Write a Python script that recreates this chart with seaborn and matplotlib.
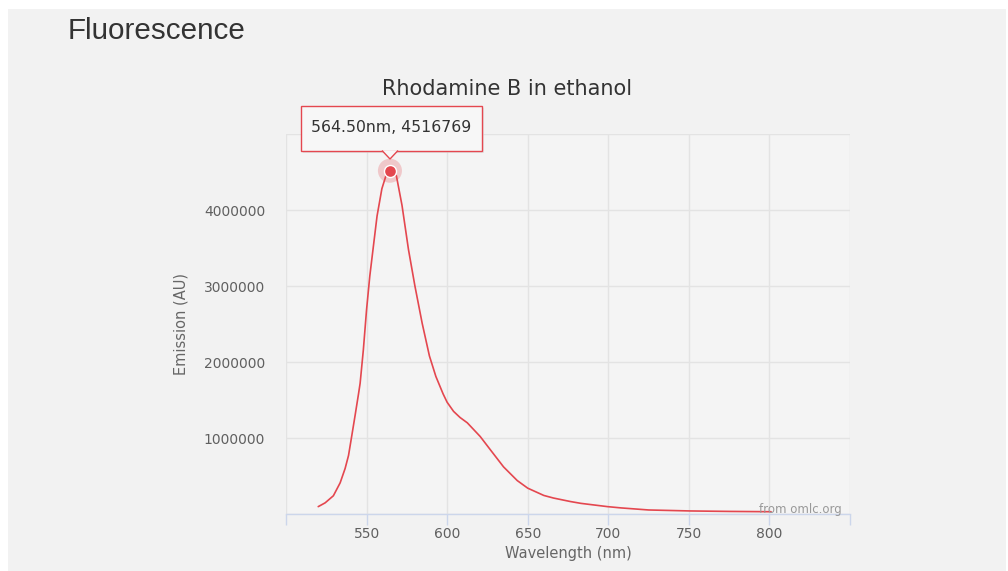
import numpy as np
import pandas as pd
import matplotlib.pyplot as plt
import seaborn as sns
from matplotlib.patches import Rectangle, Polygon

# Datos (aprox.)
wavelength = [520, 524.3, 529.4, 533.6, 536.7, 538.8, 540.9, 542.9, 545, 546, 548, 550, 552,
              554.5, 556.5, 559.5, 562, 564.5, 568.5, 572, 576, 580, 584.5, 589, 593, 597.5,
              600, 604, 608, 612.5, 616.5, 620.5, 627, 635, 643.5, 650, 660, 666, 676.5, 683,
              699.5, 708, 725, 751, 775, 801]
emission = [0.097e6, 0.147e6, 0.24e6, 0.41e6, 0.60e6, 0.77e6, 1.04e6, 1.30e6, 1.58e6, 1.72e6,
            2.16e6, 2.69e6, 3.13e6, 3.57e6, 3.92e6, 4.28e6, 4.45e6, 4516769, 4.45e6, 4.06e6,
            3.48e6, 3.00e6, 2.51e6, 2.08e6, 1.81e6, 1.58e6, 1.47e6, 1.35e6, 1.27e6, 1.20e6,
            1.11e6, 1.02e6, 0.84e6, 0.62e6, 0.44e6, 0.34e6, 0.244e6, 0.21e6, 0.164e6, 0.14e6,
            0.097e6, 0.08e6, 0.053e6, 0.04e6, 0.034e6, 0.03e6]
peak_wl = 564.5
peak_val = 4516769
x_ticks = [550, 600, 650, 700, 750, 800]
y_ticks = [1000000, 2000000, 3000000, 4000000]

df = pd.DataFrame({'wavelength': wavelength, 'emission': emission})

sns.set_theme(style='whitegrid')
plt.rcParams['font.family'] = ['DejaVu Sans']

red = '#e4474f'
fig = plt.figure(figsize=(10.08, 5.71), dpi=100)
fig.patch.set_facecolor('white')
fig.patches.append(Rectangle((8 / 1008, 0), 998 / 1008, 1 - 9 / 571, transform=fig.transFigure,
                             facecolor='#f2f2f2', edgecolor='none', zorder=-10))

ax = fig.add_axes([286 / 1008, 1 - 514 / 571, (850 - 286) / 1008, (514 - 134) / 571])
ax.set_facecolor('#f4f4f4')

sns.lineplot(data=df, x='wavelength', y='emission', color=red, linewidth=1.2, ax=ax)

ax.set_xlim(500, 850)
ax.set_ylim(0, 5000000)
ax.set_xticks([500] + x_ticks + [850])
ax.set_xticklabels([''] + [str(t) for t in x_ticks] + [''])
ax.set_yticks([0] + y_ticks + [5000000])
ax.set_yticklabels([''] + [str(t) for t in y_ticks] + [''])
ax.grid(True, color='#e3e3e3', linewidth=1)
for s in ['top', 'right', 'left']:
    ax.spines[s].set_visible(False)
ax.spines['bottom'].set_color('#ccd6eb')
ax.spines['bottom'].set_linewidth(1)
ax.tick_params(axis='x', colors='#ccd6eb', length=8, width=1, direction='out', labelcolor='#606060',
               labelsize=10, pad=1, bottom=True)
ax.tick_params(axis='y', length=0, labelcolor='#606060', labelsize=10, pad=15)

ax.set_xlabel('Wavelength (nm)', fontsize=10.5, color='#666666', labelpad=4)
ax.set_ylabel('Emission (AU)', fontsize=10.5, color='#666666', labelpad=11)

fig.text(507 / 1008, 1 - 89 / 571, 'Rhodamine B in ethanol', fontsize=15, color='#333333',
         ha='center', va='center')

# punto resaltado
ax.scatter([peak_wl], [peak_val], s=300, color=red, alpha=0.25, edgecolor='none', zorder=5)
ax.scatter([peak_wl], [peak_val], s=75, color=red, edgecolor='white', linewidth=1, zorder=6)

# tooltip (caja en pixeles de la figura)
H = 571
fig.patches.append(Rectangle((303, H - 153), 181, 45, transform=None, facecolor='#d9d9d9',
                             edgecolor='none', alpha=0.6, zorder=10))
fig.patches.append(Rectangle((301, H - 151), 181, 45, transform=None, facecolor='#f7f7f7',
                             edgecolor=red, linewidth=1, zorder=11))
fig.patches.append(Polygon([(382, H - 150.5), (390, H - 159), (398, H - 150.5)], closed=False,
                           transform=None, facecolor='#f7f7f7', edgecolor=red, linewidth=1, zorder=12))
fig.text(391 / 1008, 1 - 128 / H, '564.50nm, 4516769', fontsize=11.3, color='#333333',
         ha='center', va='center', zorder=13)

ax.text(0.985, 0.013, 'from omlc.org', transform=ax.transAxes, ha='right', va='center',
        fontsize=8.5, color='#999999')

fig.text(68 / 1008, 1 - 31 / 571, 'Fluorescence', fontsize=21.3, color='#333333',
         family=['Liberation Sans', 'DejaVu Sans'], ha='left', va='center')

plt.savefig('out.png', dpi=100, facecolor=fig.get_facecolor())
